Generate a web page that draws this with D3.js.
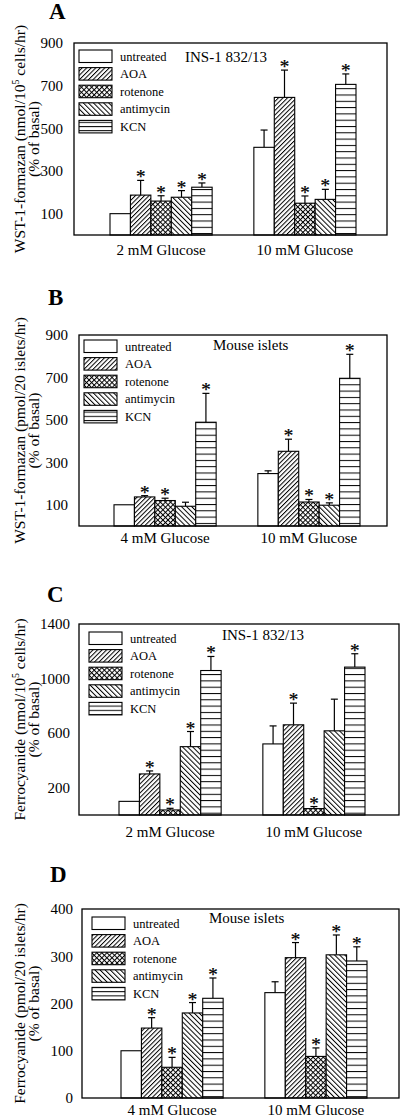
<!DOCTYPE html>
<html><head><meta charset="utf-8">
<script src="https://cdn.jsdelivr.net/npm/d3@7"></script>
<style>
body{margin:0;background:#fff}
svg{display:block}
text{font-family:"Liberation Serif","Times New Roman",serif;fill:#000}
</style>
</head><body>
<svg id="chart" width="404" height="1120"></svg>
<script>
// ---------- DATA ----------
const treatments = ["untreated", "AOA", "rotenone", "antimycin", "KCN"];

// Panel A: WST-1-formazan, INS-1 832/13
const catsA = ["2 mM Glucose", "10 mM Glucose"];
const ticksA = [100, 300, 500, 700, 900];
const lowA = [100, 187, 159, 177, 224];
const lowErrA = [0, 69, 25, 31, 20];
const lowStarA = [0, 1, 1, 1, 1];
const highA = [411, 645, 149, 167, 706];
const highErrA = [81, 128, 34, 47, 49];
const highStarA = [0, 1, 1, 1, 1];

// Panel B: WST-1-formazan, Mouse islets
const catsB = ["4 mM Glucose", "10 mM Glucose"];
const ticksB = [100, 300, 500, 700, 900];
const lowB = [100, 137, 120, 93, 489];
const lowErrB = [0, 6, 11, 19, 136];
const lowStarB = [0, 1, 1, 0, 1];
const highB = [247, 352, 113, 98, 696];
const highErrB = [13, 57, 12, 11, 113];
const highStarB = [0, 1, 1, 1, 1];

// Panel C: Ferrocyanide, INS-1 832/13
const catsC = ["2 mM Glucose", "10 mM Glucose"];
const ticksC = [200, 600, 1000, 1400];
const lowC = [100, 301, 37, 501, 1059];
const lowErrC = [0, 22, 12, 111, 103];
const lowStarC = [0, 1, 1, 1, 1];
const highC = [521, 661, 47, 617, 1084];
const highErrC = [132, 159, 15, 232, 98];
const highStarC = [0, 1, 1, 0, 1];

// Panel D: Ferrocyanide, Mouse islets
const catsD = ["4 mM Glucose", "10 mM Glucose"];
const ticksD = [0, 100, 200, 300, 400];
const lowD = [100, 148, 65, 180, 211];
const lowErrD = [0, 22, 21, 22, 43];
const lowStarD = [0, 1, 1, 1, 1];
const highD = [223, 297, 88, 303, 290];
const highErrD = [23, 32, 18, 42, 30];
const highStarD = [0, 1, 1, 1, 1];

// ---------- PANELS (text + layout) ----------
const panels = [
  {letter:"A", cats:catsA, ticks:ticksA, domain:[0,900],
   vals:[lowA, highA], errs:[lowErrA, highErrA], stars:[lowStarA, highStarA],
   yl1:["WST-1-formazan (nmol/10","5"," cells/hr)"], yl2:"(% of basal)", sub:"INS-1 832/13",
   top:43, bottom:235, left:74, right:387, barsL:110, barsR:356,
   letterX:49, letterY:19, legX:79, legY:50, legTX:120, subX:185, subY:62, catY:255, tickR:63},
  {letter:"B", cats:catsB, ticks:ticksB, domain:[0,900],
   vals:[lowB, highB], errs:[lowErrB, highErrB], stars:[lowStarB, highStarB],
   yl1:["WST-1-formazan (pmol/20 islets/hr)"], yl2:"(% of basal)", sub:"Mouse islets",
   top:335, bottom:526, left:79, right:387, barsL:114, barsR:360,
   letterX:48, letterY:305, legX:84, legY:340, legTX:125, subX:213, subY:350, catY:543, tickR:68},
  {letter:"C", cats:catsC, ticks:ticksC, domain:[0,1400],
   vals:[lowC, highC], errs:[lowErrC, highErrC], stars:[lowStarC, highStarC],
   yl1:["Ferrocyanide (nmol/10","5"," cells/hr)"], yl2:"(% of basal)", sub:"INS-1 832/13",
   top:624, bottom:815, left:79, right:399, barsL:119, barsR:365,
   letterX:47, letterY:602, legX:89, legY:632, legTX:130, subX:222, subY:640, catY:837, tickR:70},
  {letter:"D", cats:catsD, ticks:ticksD, domain:[0,400],
   vals:[lowD, highD], errs:[lowErrD, highErrD], stars:[lowStarD, highStarD],
   yl1:["Ferrocyanide (pmol/20 islets/hr)"], yl2:"(% of basal)", sub:"Mouse islets",
   top:909, bottom:1098, left:82, right:399, barsL:121, barsR:367,
   letterX:50, letterY:882, legX:92, legY:917, legTX:133, subX:209, subY:923, catY:1115, tickR:73}
];

const svg = d3.select("#chart");
const defs = svg.append("defs");

// ---------- PATTERNS ----------
function linePattern(id, spacing, angle){
  const p = defs.append("pattern").attr("id", id).attr("patternUnits","userSpaceOnUse")
    .attr("width", spacing).attr("height", spacing)
    .attr("patternTransform", `rotate(${angle})`);
  p.append("rect").attr("width", spacing).attr("height", spacing).attr("fill","#fff");
  p.append("line").attr("x1",0.5).attr("y1",0).attr("x2",0.5).attr("y2",spacing)
    .attr("stroke","#000").attr("stroke-width",1);
}
function crossPattern(id, spacing){
  const p = defs.append("pattern").attr("id", id).attr("patternUnits","userSpaceOnUse")
    .attr("width", spacing).attr("height", spacing)
    .attr("patternTransform", "rotate(45)");
  p.append("rect").attr("width", spacing).attr("height", spacing).attr("fill","#fff");
  p.append("line").attr("x1",0.5).attr("y1",0).attr("x2",0.5).attr("y2",spacing)
    .attr("stroke","#000").attr("stroke-width",1);
  p.append("line").attr("x1",0).attr("y1",0.5).attr("x2",spacing).attr("y2",0.5)
    .attr("stroke","#000").attr("stroke-width",1);
}
function hPattern(id, spacing){
  const p = defs.append("pattern").attr("id", id).attr("patternUnits","userSpaceOnUse")
    .attr("width", 10).attr("height", spacing);
  p.append("rect").attr("width", 10).attr("height", spacing).attr("fill","#fff");
  p.append("line").attr("x1",0).attr("y1",0.5).attr("x2",10).attr("y2",0.5)
    .attr("stroke","#000").attr("stroke-width",1);
}
linePattern("pAOA", 3.2, 45);
crossPattern("pROT", 3.6);
linePattern("pANT", 3.6, -45);
hPattern("pKCN", 6.3);
hPattern("pKCNleg", 4.2);

const fills = {untreated:"#fff", AOA:"url(#pAOA)", rotenone:"url(#pROT)", antimycin:"url(#pANT)", KCN:"url(#pKCN)"};
const legFills = {untreated:"#fff", AOA:"url(#pAOA)", rotenone:"url(#pROT)", antimycin:"url(#pANT)", KCN:"url(#pKCNleg)"};

// ---------- DRAW ----------
panels.forEach(p => {
  const g = svg.append("g");
  const y = d3.scaleLinear().domain(p.domain).range([p.bottom, p.top]);
  const x0 = d3.scaleBand().domain(p.cats).range([p.barsL, p.barsR]).paddingInner(0.29).paddingOuter(0);
  const x1 = d3.scaleBand().domain(treatments).range([0, x0.bandwidth()]);

  // panel letter
  g.append("text").attr("x", p.letterX).attr("y", p.letterY)
    .attr("font-size", 23).attr("font-weight", "bold").text(p.letter);

  // y axis labels
  const cy = (p.top + p.bottom) / 2;
  const t1 = g.append("text").attr("transform", `translate(25,${cy}) rotate(-90)`)
    .attr("text-anchor","middle").attr("font-size", 15.5);
  p.yl1.forEach((s, i) => {
    const ts = t1.append("tspan").text(s);
    if (i === 1) ts.attr("font-size", 10).attr("dy", -6);
    if (i === 2) ts.attr("dy", 6);
  });
  g.append("text").attr("transform", `translate(39,${cy}) rotate(-90)`)
    .attr("text-anchor","middle").attr("font-size", 15.5).text(p.yl2);

  // bars
  p.cats.forEach((cat, ci) => {
    treatments.forEach((t, ti) => {
      const v = p.vals[ci][ti];
      const e = p.errs[ci][ti];
      const bx = x0(cat) + x1(t);
      const bw = x1.bandwidth();
      const cx = bx + bw / 2;
      if (e > 0) {
        g.append("line").attr("x1", cx).attr("x2", cx).attr("y1", y(v)).attr("y2", y(v + e))
          .attr("stroke","#000").attr("stroke-width",1.2);
        g.append("line").attr("x1", cx - 3.5).attr("x2", cx + 3.5).attr("y1", y(v + e)).attr("y2", y(v + e))
          .attr("stroke","#000").attr("stroke-width",1.2);
      }
      g.append("rect").attr("x", bx).attr("y", y(v)).attr("width", bw).attr("height", y(p.domain[0]) - y(v))
        .attr("fill", fills[t]).attr("stroke","#000").attr("stroke-width",1.1);
      if (p.stars[ci][ti]) {
        g.append("text").attr("x", cx).attr("y", y(v + e) + 3).attr("text-anchor","middle")
          .attr("font-size", 19).attr("stroke","#000").attr("stroke-width",0.25).text("*");
      }
    });
  });

  // frame
  g.append("rect").attr("x", p.left).attr("y", p.top).attr("width", p.right - p.left)
    .attr("height", p.bottom - p.top).attr("fill","none").attr("stroke","#000").attr("stroke-width",1.3);

  // y axis tick labels
  const ya = g.append("g").attr("transform", `translate(${p.left},0)`)
    .call(d3.axisLeft(y).tickValues(p.ticks).tickFormat(d3.format("d")).tickSize(0).tickPadding(p.left - p.tickR));
  ya.select(".domain").remove();
  ya.attr("font-family", null).attr("font-size", null);
  ya.selectAll("text").attr("font-size", 15);

  // x category labels
  const xa = g.append("g").attr("transform", `translate(0,${p.bottom})`)
    .call(d3.axisBottom(x0).tickSize(0).tickPadding(p.catY - p.bottom - 0.71 * 15));
  xa.select(".domain").remove();
  xa.attr("font-family", null).attr("font-size", null);
  xa.selectAll("text").attr("font-size", 15);

  // legend
  treatments.forEach((t, i) => {
    const ly = p.legY + i * 17.6;
    g.append("rect").attr("x", p.legX).attr("y", ly).attr("width", 33).attr("height", 12.5)
      .attr("fill", legFills[t]).attr("stroke","#000").attr("stroke-width",1.1);
    g.append("text").attr("x", p.legTX).attr("y", ly + 10.5).attr("font-size", 12.5).text(t);
  });

  // subtitle
  g.append("text").attr("x", p.subX).attr("y", p.subY).attr("font-size", 15).text(p.sub);
});
</script>
</body></html>
